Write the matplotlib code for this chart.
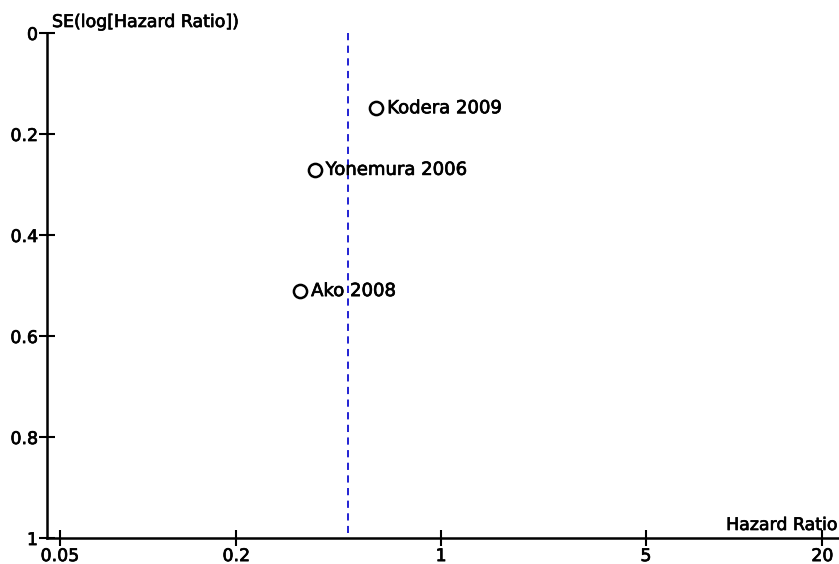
import matplotlib
matplotlib.use('Agg')
from matplotlib import pyplot as plt
from matplotlib import patheffects

# данные воронкообразной диаграммы
studies = ['Kodera 2009', 'Yonemura 2006', 'Ako 2008']
hr = [0.60, 0.37, 0.33]
se = [0.149, 0.271, 0.511]
pooled_hr = 0.48
xticks = [0.05, 0.2, 1, 5, 20]
xtick_labels = ['0.05', '0.2', '1', '5', '20']
yticks = [0, 0.2, 0.4, 0.6, 0.8, 1]
ytick_labels = ['0', '0.2', '0.4', '0.6', '0.8', '1']

plt.rcParams['font.family'] = ['DejaVu Sans']
plt.rcParams['font.size'] = 12.5
# чуть более жирный текст, как в оригинале
bold_fx = [patheffects.withStroke(linewidth=0.5, foreground='black')]

fig = plt.figure(figsize=(8.39, 5.64), dpi=100)
ax = fig.add_axes([0.056, 0.046, 0.944, 0.8955])

ax.set_xscale('log')
ax.set_xlim(0.0452, 22.8)
ax.set_ylim(1, 0)

# линия объединённой оценки
ax.plot([pooled_hr, pooled_hr], [0, 0.99], color='#1010d0', linestyle=(0, (4, 3)), linewidth=1.3)

# исследования
ax.scatter(hr, se, s=90, facecolors='white', edgecolors='black', linewidths=1.8, zorder=3)
for name, x, y in zip(studies, hr, se):
    ax.annotate(name, (x, y), xytext=(8, 0), textcoords='offset points',
                va='center', ha='left', fontsize=13, color='black', path_effects=bold_fx)

ax.set_xticks(xticks)
ax.set_xticklabels(xtick_labels)
ax.xaxis.set_minor_locator(matplotlib.ticker.NullLocator())
ax.set_yticks(yticks)
ax.set_yticklabels(ytick_labels)
for lab in ax.get_xticklabels() + ax.get_yticklabels():
    lab.set_path_effects(bold_fx)

for s in ['top', 'right']:
    ax.spines[s].set_visible(False)
for s in ['left', 'bottom']:
    ax.spines[s].set_linewidth(1.8)
ax.tick_params(direction='inout', length=11, width=1.5, labelsize=12.5, pad=1)

fig.text(52 / 839, 1 - 22 / 564, 'SE(log[Hazard Ratio])', ha='left', va='center',
         fontsize=12.5, path_effects=bold_fx)
fig.text(838 / 839, 1 - 525 / 564, 'Hazard Ratio', ha='right', va='center',
         fontsize=12.5, path_effects=bold_fx)

plt.savefig('out.png', dpi=100)
